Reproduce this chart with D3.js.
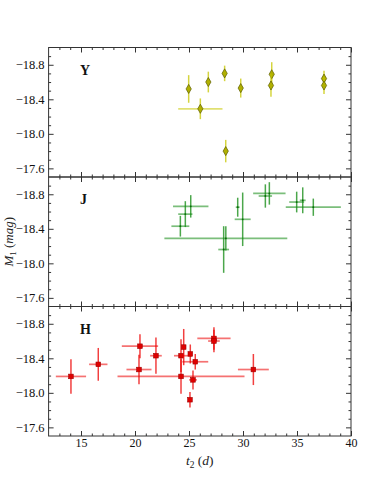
<!DOCTYPE html>
<html>
<head>
<meta charset="utf-8">
<script src="https://cdn.jsdelivr.net/npm/d3@7"></script>
<style>
  body { margin: 0; background: #fff; }
  text { font-family: "Liberation Serif", "DejaVu Serif", serif; }
</style>
</head>
<body>
<div id="viz-container"></div>
<script>
// Y band
let yT2    = [24.97, 26.79, 28.30, 29.79, 32.66, 32.59, 37.50, 37.50, 26.05, 28.40];
let yM1    = [-18.52, -18.60, -18.70, -18.53, -18.69, -18.56, -18.64, -18.56, -18.29, -17.80];
let yT2Err = [0, 0, 0, 0, 0, 0, 0, 0, 2.05, 0];
let yM1Err = [0.16, 0.12, 0.09, 0.11, 0.14, 0.13, 0.09, 0.10, 0.12, 0.13];

// J band
let jT2    = [25.16, 24.66, 24.20, 28.21, 28.41, 29.97, 29.51, 32.44, 32.07, 36.51, 34.97, 35.53];
let jM1    = [-18.66, -18.57, -18.43, -18.16, -18.29, -18.51, -18.65, -18.81, -18.78, -18.65, -18.71, -18.73];
let jT2Err = [1.64, 0.66, 0.83, 0.50, 5.69, 0.74, 0.18, 1.50, 0.62, 2.55, 0.69, 0.27];
let jM1Err = [0.13, 0.15, 0.12, 0.27, 0.14, 0.31, 0.11, 0.13, 0.135, 0.10, 0.12, 0.15];

// H band
let hT2    = [14.07, 16.60, 20.46, 21.94, 20.37, 24.26, 24.26, 24.51, 25.12, 25.58, 25.37, 25.09, 27.31, 27.31, 30.96];
let hM1    = [-18.19, -18.33, -18.54, -18.43, -18.27, -18.19, -18.43, -18.53, -18.45, -18.36, -18.15, -17.92, -18.63, -18.60, -18.27];
let hT2Err = [1.40, 0.85, 1.68, 0.54, 1.16, 5.88, 0.65, 0.15, 0.10, 1.20, 0.36, 0.05, 1.54, 0.54, 1.43];
let hM1Err = [0.20, 0.19, 0.14, 0.21, 0.17, 0.20, 0.19, 0.21, 0.11, 0.09, 0.11, 0.09, 0.13, 0.13, 0.18];

let bandNames = ["Y", "J", "H"];
let xMajor = [15, 20, 25, 30, 35, 40];
let yMajor = [-18.8, -18.4, -18.0, -17.6];

function rows(t, m, te, me){
  return t.map(function(d, i){ return {t: d, m: m[i], te: te[i], me: me[i]}; });
}
let bands = [
  {name: bandNames[0], data: rows(yT2, yM1, yT2Err, yM1Err)},
  {name: bandNames[1], data: rows(jT2, jM1, jT2Err, jM1Err)},
  {name: bandNames[2], data: rows(hT2, hM1, hT2Err, hM1Err)}
];

let W = 390, H = 485;
let left = 48.6, right = 351, top0 = 47.5, panelH = 129.5;

let viz = d3.select("#viz-container")
  .append("svg")
  .attr("width", W)
  .attr("height", H);

let x = d3.scaleLinear().domain([12, 40]).range([left, right]);
let xMinor = d3.range(13, 40, 1).filter(function(v){ return v % 5 != 0; });
let yMinor = d3.range(-18.9, -17.55, 0.1).map(function(v){ return +v.toFixed(1); })
  .filter(function(v){ return yMajor.indexOf(v) < 0; });

let axisColor = "#333";

bands.forEach(function(band, bi){
  let top = top0 + bi * panelH;
  let y = d3.scaleLinear().domain([-19.0, -17.5]).range([top, top + panelH]);
  let g = viz.append("g");

  // ticks, all pointing inward
  function styleAxis(sel){
    sel.select(".domain").remove();
    sel.selectAll("line").attr("stroke", axisColor).attr("stroke-width", 1);
    sel.selectAll("text").attr("fill", "#111").style("font-size", "12.5px");
  }
  g.append("g").attr("transform", "translate(" + left + ",0)")
    .call(d3.axisLeft(y).tickValues(yMajor).tickSize(-5).tickPadding(4).tickFormat(d3.format(".1f")))
    .call(styleAxis);
  g.append("g").attr("transform", "translate(" + left + ",0)")
    .call(d3.axisLeft(y).tickValues(yMinor).tickSize(-2.5).tickFormat(""))
    .call(styleAxis);
  g.append("g").attr("transform", "translate(" + right + ",0)")
    .call(d3.axisRight(y).tickValues(yMajor).tickSize(-5).tickFormat(""))
    .call(styleAxis);
  g.append("g").attr("transform", "translate(" + right + ",0)")
    .call(d3.axisRight(y).tickValues(yMinor).tickSize(-2.5).tickFormat(""))
    .call(styleAxis);

  g.append("g").attr("transform", "translate(0," + top + ")")
    .call(d3.axisTop(x).tickValues(xMajor).tickSize(-5).tickFormat(""))
    .call(styleAxis);
  g.append("g").attr("transform", "translate(0," + top + ")")
    .call(d3.axisTop(x).tickValues(xMinor).tickSize(-2.5).tickFormat(""))
    .call(styleAxis);
  let bottomAxis = d3.axisBottom(x).tickValues(xMajor).tickSize(-5).tickPadding(2);
  if(bi < 2){ bottomAxis.tickFormat(""); }
  g.append("g").attr("transform", "translate(0," + (top + panelH) + ")")
    .call(bottomAxis)
    .call(styleAxis)
    .selectAll("text").style("font-size", "12px");
  g.append("g").attr("transform", "translate(0," + (top + panelH) + ")")
    .call(d3.axisBottom(x).tickValues(xMinor).tickSize(-2.5).tickFormat(""))
    .call(styleAxis);

  // frame
  g.append("rect")
    .attr("x", left).attr("y", top)
    .attr("width", right - left).attr("height", panelH)
    .attr("fill", "none").attr("stroke", axisColor).attr("stroke-width", 1);

  // band label
  g.append("text")
    .attr("x", 80).attr("y", top + 27)
    .style("font-size", "14px").style("font-weight", "bold")
    .attr("fill", "#111")
    .text(band.name);

  let errColor = band.name == "Y" ? "#c8c800" : (band.name == "J" ? "#108a10" : "#ee0000");
  let pts = g.append("g").selectAll("g").data(band.data).enter().append("g");

  pts.filter(function(d){ return d.te > 0; }).append("line")
    .attr("x1", function(d){ return x(d.t - d.te); })
    .attr("x2", function(d){ return x(d.t + d.te); })
    .attr("y1", function(d){ return y(d.m); })
    .attr("y2", function(d){ return y(d.m); })
    .attr("stroke", errColor).attr("stroke-width", 1.7).style("opacity", 0.55);
  pts.append("line")
    .attr("x1", function(d){ return x(d.t); })
    .attr("x2", function(d){ return x(d.t); })
    .attr("y1", function(d){ return y(d.m - d.me); })
    .attr("y2", function(d){ return y(d.m + d.me); })
    .attr("stroke", errColor).attr("stroke-width", 1.5).style("opacity", 0.75);

  if(band.name == "Y"){
    pts.append("path")
      .attr("d", d3.symbol().type(d3.symbolDiamond).size(24))
      .attr("transform", function(d){ return "translate(" + x(d.t) + "," + y(d.m) + ")"; })
      .attr("fill", "#b0b000").attr("stroke", "#5c5c00").attr("stroke-width", 0.7);
  }else if(band.name == "J"){
    pts.append("circle")
      .attr("cx", function(d){ return x(d.t); })
      .attr("cy", function(d){ return y(d.m); })
      .attr("r", 0.9)
      .attr("fill", "#0a6a0a");
  }else{
    pts.append("rect")
      .attr("x", function(d){ return x(d.t) - 2.3; })
      .attr("y", function(d){ return y(d.m) - 2.3; })
      .attr("width", 4.6).attr("height", 4.6)
      .attr("fill", "#e00000").attr("stroke", "#a00000").attr("stroke-width", 0.6);
  }
});

// axis titles
let yLab = viz.append("text")
  .attr("transform", "translate(13," + (top0 + panelH * 1.5) + ") rotate(-90)")
  .attr("text-anchor", "middle")
  .attr("fill", "#222")
  .style("font-size", "13px");
yLab.append("tspan").style("font-style", "italic").text("M");
yLab.append("tspan").attr("dy", 3).style("font-size", "9px").text("1");
yLab.append("tspan").attr("dy", -3).text(" (");
yLab.append("tspan").style("font-style", "italic").text("mag");
yLab.append("tspan").text(")");

let xLab = viz.append("text")
  .attr("x", (left + right) / 2).attr("y", 465)
  .attr("text-anchor", "middle")
  .attr("fill", "#222")
  .style("font-size", "13.5px");
xLab.append("tspan").style("font-style", "italic").text("t");
xLab.append("tspan").attr("dy", 3).style("font-size", "9.5px").text("2");
xLab.append("tspan").attr("dy", -3).text(" (");
xLab.append("tspan").style("font-style", "italic").text("d");
xLab.append("tspan").text(")");
</script>
</body>
</html>
